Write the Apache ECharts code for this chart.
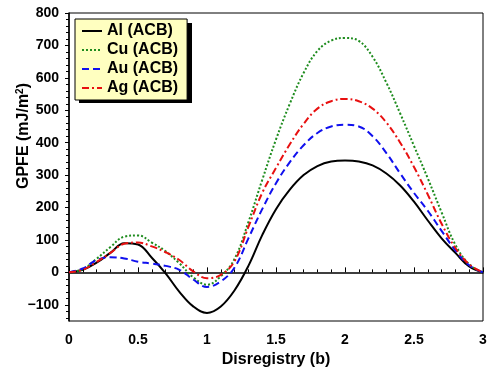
<!DOCTYPE html>
<html>
<head>
<meta charset="utf-8">
<script src="https://cdn.jsdelivr.net/npm/echarts@6/dist/echarts.min.js"></script>
<style>
  html, body { margin: 0; padding: 0; background: #fff; }
  #wrap { position: relative; width: 491px; height: 378px; }
  #chart { position: absolute; left: 0; top: 0; width: 491px; height: 378px; z-index: 1; }
  /* hard drop shadow behind the legend box, shows through the transparent canvas */
  #legendShadow { position: absolute; left: 79px; top: 23px; width: 113px; height: 80px; background: #000; z-index: 0; }
</style>
</head>
<body>
<div id="wrap">
  <div id="legendShadow"></div>
  <div id="chart"></div>
</div>
<script>
// disregistry in units of b
var disregistry = [0, 0.1, 0.2, 0.3, 0.4, 0.5, 0.6, 0.7, 0.8, 0.9, 1.0,
  1.1, 1.2, 1.3, 1.4, 1.5, 1.6, 1.7, 1.8, 1.9, 2.0,
  2.1, 2.2, 2.3, 2.4, 2.5, 2.6, 2.7, 2.8, 2.9, 3.0];

// GPFE values (mJ/m^2)
var al = [0, 8, 30, 60, 90, 86, 45, -3, -60, -105, -125,
  -105, -55, 20, 115, 195, 255, 300, 328, 342, 345,
  342, 330, 305, 268, 218, 160, 105, 60, 18, 0];
var cu = [0, 10, 42, 78, 110, 114, 92, 65, 28, -15, -38,
  -12, 42, 155, 285, 410, 520, 615, 683, 715, 723,
  714, 665, 585, 490, 390, 290, 185, 85, 25, 0];
var au = [0, 12, 38, 47, 43, 33, 27, 20, 8, -22, -45,
  -28, 15, 105, 195, 275, 340, 392, 430, 450, 455,
  450, 420, 368, 305, 245, 190, 128, 68, 22, 0];
var ag = [0, 8, 32, 60, 88, 92, 80, 62, 38, 3, -18,
  -8, 35, 140, 245, 322, 395, 458, 505, 528, 535,
  528, 505, 462, 400, 325, 240, 150, 75, 25, 0];

var names = ['Al (ACB)', 'Cu (ACB)', 'Au (ACB)', 'Ag (ACB)'];
var yMajor = [-100, 0, 100, 200, 300, 400, 500, 600, 700, 800];
var yMinor = [-140, -120, -80, -60, -40, -20, 20, 40, 60, 80, 120, 140, 160, 180,
  220, 240, 260, 280, 320, 340, 360, 380, 420, 440, 460, 480, 520, 540, 560, 580,
  620, 640, 660, 680, 720, 740, 760, 780];

function pairs(vals) {
  return disregistry.map(function (x, i) { return [x, vals[i]]; });
}

var font = 'Liberation Sans, Arial, sans-serif';
var chart = echarts.init(document.getElementById('chart'));

chart.setOption({
  animation: false,
  backgroundColor: 'transparent',
  grid: {
    left: 69, right: 8, top: 13, bottom: 57,
    outerBoundsMode: 'none', containLabel: false,
    show: true, borderColor: '#000', borderWidth: 1
  },
  legend: {
    orient: 'vertical',
    left: 75, top: 19,
    data: names,
    itemWidth: 20, itemHeight: 14, itemGap: 3,
    padding: [4, 9, 4, 6],
    backgroundColor: '#ffffc0',
    borderColor: '#000', borderWidth: 1,
    itemStyle: { color: 'rgba(0,0,0,0)', borderWidth: 0 },
    textStyle: { fontFamily: font, fontWeight: 'bold', fontSize: 16, color: '#000', lineHeight: 16 }
  },
  xAxis: {
    type: 'value', min: 0, max: 3, interval: 0.5,
    name: 'Disregistry (b)', nameLocation: 'middle', nameGap: 29,
    nameTextStyle: { fontFamily: font, fontWeight: 'bold', fontSize: 16, color: '#000' },
    axisLine: { lineStyle: { color: '#000', width: 1.5 } },
    axisTick: { inside: true, length: 5, lineStyle: { color: '#000' } },
    minorTick: { show: true, splitNumber: 5, length: 3, lineStyle: { color: '#000' } },
    axisLabel: { margin: 12, fontFamily: font, fontWeight: 'bold', fontSize: 14, color: '#000' },
    splitLine: { show: false }
  },
  yAxis: [{
    type: 'value', min: -150, max: 800,
    name: 'GPFE (mJ/m{sup|2})', nameLocation: 'middle', nameGap: 36, nameMoveOverlap: false,
    nameTextStyle: {
      fontFamily: font, fontWeight: 'bold', fontSize: 16, color: '#000',
      padding: [0, 0, 0, 62],
      rich: { sup: { fontFamily: font, fontWeight: 'bold', fontSize: 10, color: '#000', verticalAlign: 'top', padding: [0, 0, 8, 0] } }
    },
    axisLine: { show: true, lineStyle: { color: '#000', width: 1.5 } },
    axisTick: { show: true, length: 4, customValues: yMajor, lineStyle: { color: '#000' } },
    axisLabel: {
      margin: 10, customValues: yMajor, fontFamily: font, fontWeight: 'bold', fontSize: 14, color: '#000',
      formatter: function (v) { return String(v).replace('-', '\u2212'); }
    },
    splitLine: { show: false }
  }, {
    type: 'value', min: -150, max: 800, position: 'left', offset: 0,
    axisLine: { show: false },
    axisTick: { show: true, length: 3, customValues: yMinor, lineStyle: { color: '#000' } },
    axisLabel: { show: false },
    splitLine: { show: false }
  }],
  series: [
    { name: names[0], type: 'line', data: pairs(al), smooth: 0.4, symbol: 'none',
      lineStyle: { color: '#000', width: 2 }, itemStyle: { color: '#000' } },
    { name: names[1], type: 'line', data: pairs(cu), smooth: 0.4, symbol: 'none',
      lineStyle: { color: '#1e8c1e', width: 2, type: [2, 2] }, itemStyle: { color: '#1e8c1e' } },
    { name: names[2], type: 'line', data: pairs(au), smooth: 0.4, symbol: 'none',
      lineStyle: { color: '#1010ee', width: 2, type: [7, 4] }, itemStyle: { color: '#1010ee' } },
    { name: names[3], type: 'line', data: pairs(ag), smooth: 0.4, symbol: 'none',
      lineStyle: { color: '#e81010', width: 2, type: [7, 3, 2, 3] }, itemStyle: { color: '#e81010' } }
  ]
});
</script>
</body>
</html>
